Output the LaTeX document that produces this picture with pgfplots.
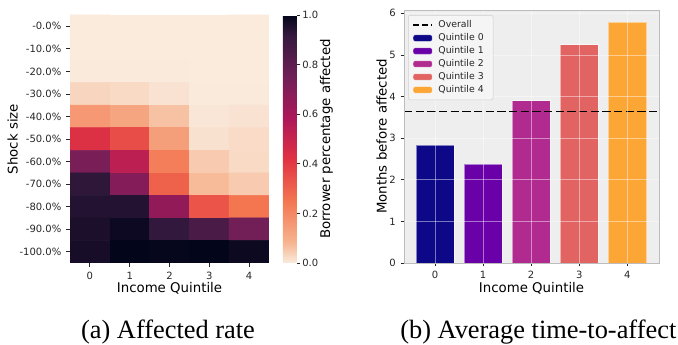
\documentclass[border=0pt]{standalone}
\usepackage{pgfplots}
\pgfplotsset{compat=1.18}
\usepackage{fontspec}
\setmainfont{DejaVu Sans}
\newfontfamily\capfont{Liberation Serif}
\definecolor{txt}{RGB}{38,38,38}
\definecolor{bgc}{HTML}{EEEEEE}
\definecolor{edgec}{HTML}{BCBCBC}
\definecolor{q0}{HTML}{0D0887}
\definecolor{q1}{HTML}{6A00A8}
\definecolor{q2}{HTML}{B12A90}
\definecolor{q3}{HTML}{E16462}
\definecolor{q4}{HTML}{FCA636}
\pgfplotsset{
  colormap={rocketr}{rgb255(0cm)=(250,235,221) rgb255(1cm)=(246,180,143) rgb255(3cm)=(243,118,81) rgb255(5cm)=(225,51,66) rgb255(7cm)=(173,23,89) rgb255(9cm)=(112,31,87) rgb255(11cm)=(53,25,62) rgb255(12cm)=(3,5,26)},
  every axis/.append style={
    /pgf/number format/assume math mode=true,
    ticklabel style={font=\fontsize{7.5}{9}\selectfont, text=txt},
    label style={font=\fontsize{9.2}{11}\selectfont, text=txt},
  },
  qbar/.style={legend image code/.code={\fill[##1] (0pt,-2.4pt) rectangle (14.25pt,2.4pt);}},
  dashleg/.style={legend image code/.code={\draw[##1] (0pt,0pt) -- (14.25pt,0pt);}},
}
\begin{document}
\begin{tikzpicture}
\useasboundingbox (0,0) rectangle (508.5pt,258.75pt);
% ---------------- heatmap ----------------
\begin{axis}[
  at={(52.5pt,61.5pt)}, anchor=south west,
  scale only axis, width=149.25pt, height=186pt,
  xmin=-0.5, xmax=4.5, ymin=-0.5, ymax=10.5, y dir=reverse,
  axis line style={draw=none},
  xtick={0,1,2,3,4},
  ytick={0,1,2,3,4,5,6,7,8,9,10},
  yticklabels={-0.0\%,-10.0\%,-20.0\%,-30.0\%,-40.0\%,-50.0\%,-60.0\%,-70.0\%,-80.0\%,-90.0\%,-100.0\%},
  tick align=outside, xtick pos=left, ytick pos=left,
  major tick length=3pt, tick style={txt, line width=0.6pt},
  xlabel={Income Quintile}, ylabel={Shock size},
  every axis x label/.style={at={(axis description cs:0.5,0)}, anchor=center, yshift=-18.75pt},
  every axis y label/.style={at={(axis description cs:0,0.5)}, anchor=center, xshift=-43pt, rotate=90},
  colormap name=rocketr, point meta min=0, point meta max=1,
  colorbar,
  colorbar shift/.style={xshift=10.5pt},
  colorbar style={
    at={(parent axis.north east)}, anchor=north west,
    width=10.5pt,
    axis line style={draw=none},
    ytick={0,0.2,0.4,0.6,0.8,1},
    yticklabel style={inner xsep=1.2pt, /pgf/number format/.cd, fixed, fixed zerofill, precision=1},
    ytick pos=right, yticklabel pos=right,
    tick align=outside, major tick length=2.6pt, tick style={txt, line width=0.6pt},
    ylabel={Borrower percentage affected},
    every axis y label/.style={at={(axis description cs:1,0.5)}, anchor=center, xshift=22pt, rotate=90},
  },
]
\addplot[matrix plot*, point meta=explicit, mesh/cols=5] table[x=x, y=y, meta=c] {
x y c
0 0 0
1 0 0
2 0 0
3 0 0
4 0 0
0 1 0
1 1 0
2 1 0
3 1 0
4 1 0
0 2 0.002
1 2 0.002
2 2 0.001
3 2 0
4 2 0
0 3 0.033
1 3 0.026
2 3 0.013
3 3 0.002
4 3 0.002
0 4 0.158
1 4 0.121
2 4 0.062
3 4 0.007
4 4 0.013
0 5 0.433
1 5 0.352
2 5 0.14
3 5 0.015
4 5 0.024
0 6 0.723
1 6 0.535
2 6 0.228
3 6 0.048
4 6 0.026
0 7 0.927
1 7 0.698
2 7 0.30
3 7 0.072
4 7 0.048
0 8 0.947
1 8 0.945
2 8 0.655
3 8 0.335
4 8 0.25
0 9 0.958
1 9 0.982
2 9 0.92
3 9 0.855
4 9 0.745
0 10 0.965
1 10 1.0
2 10 0.995
3 10 1.0
4 10 0.985
};
\end{axis}
% ---------------- bars ----------------
\begin{axis}[
  at={(303pt,61.5pt)}, anchor=south west,
  scale only axis, width=191.25pt, height=189.75pt,
  xmin=-0.645, xmax=4.66, ymin=0, ymax=6.08,
  axis background/.style={fill=bgc},
  axis line style={draw=edgec, line width=0.6pt},
  axis on top,
  xtick={0,1,2,3,4}, ytick={0,1,2,3,4,5,6},
  xtick align=inside, ytick align=outside,
  xtick pos=left, ytick pos=left,
  major tick length=2.6pt, tick style={txt, line width=0.6pt},
  grid=major, major grid style={draw=white, opacity=0.45, line width=0.5pt},
  xlabel={Income Quintile}, ylabel={Months before affected},
  every axis x label/.style={at={(axis description cs:0.5,0)}, anchor=center, yshift=-18.75pt},
  every axis y label/.style={at={(axis description cs:0,0.5)}, anchor=center, xshift=-16.7pt, rotate=90},
  ybar, bar width=0.8, bar shift=0pt,
  legend cell align=left,
  legend style={at={(0,1)}, anchor=north west, xshift=3pt, yshift=-3.75pt,
    draw=edgec!70, fill=white!40!bgc, rounded corners=1.5pt,
    font=\fontsize{7}{8}\selectfont, text=txt, row sep=-1.1pt,
    nodes={inner xsep=4pt}},
]
\addlegendimage{dashleg, black, line width=1.4pt, dash pattern=on 4.5pt off 2pt}
\addlegendentry{Overall}
\addplot[qbar, fill=q0, draw=white, draw opacity=0.5, line width=0.4pt] coordinates {(0,2.84)};
\addlegendentry{Quintile 0}
\addplot[qbar, fill=q1, draw=white, draw opacity=0.5, line width=0.4pt] coordinates {(1,2.37)};
\addlegendentry{Quintile 1}
\addplot[qbar, fill=q2, draw=white, draw opacity=0.5, line width=0.4pt] coordinates {(2,3.90)};
\addlegendentry{Quintile 2}
\addplot[qbar, fill=q3, draw=white, draw opacity=0.5, line width=0.4pt] coordinates {(3,5.25)};
\addlegendentry{Quintile 3}
\addplot[qbar, fill=q4, draw=white, draw opacity=0.5, line width=0.4pt] coordinates {(4,5.79)};
\addlegendentry{Quintile 4}
\addplot[sharp plot, black, line width=1.4pt, dash pattern=on 6.25pt off 2.5pt, forget plot] coordinates {(-0.645,3.64) (4.66,3.64)};
\end{axis}
% ---------------- captions ----------------
\node[anchor=base, font=\capfont\fontsize{19.8}{22}\selectfont, inner sep=0pt] at (126pt,4.5pt) {(a) Affected rate};
\node[anchor=base west, font=\capfont\fontsize{19.8}{22}\selectfont, inner sep=0pt] at (300pt,4.5pt) {(b) Average time-to-affect};
\end{tikzpicture}
\end{document}
